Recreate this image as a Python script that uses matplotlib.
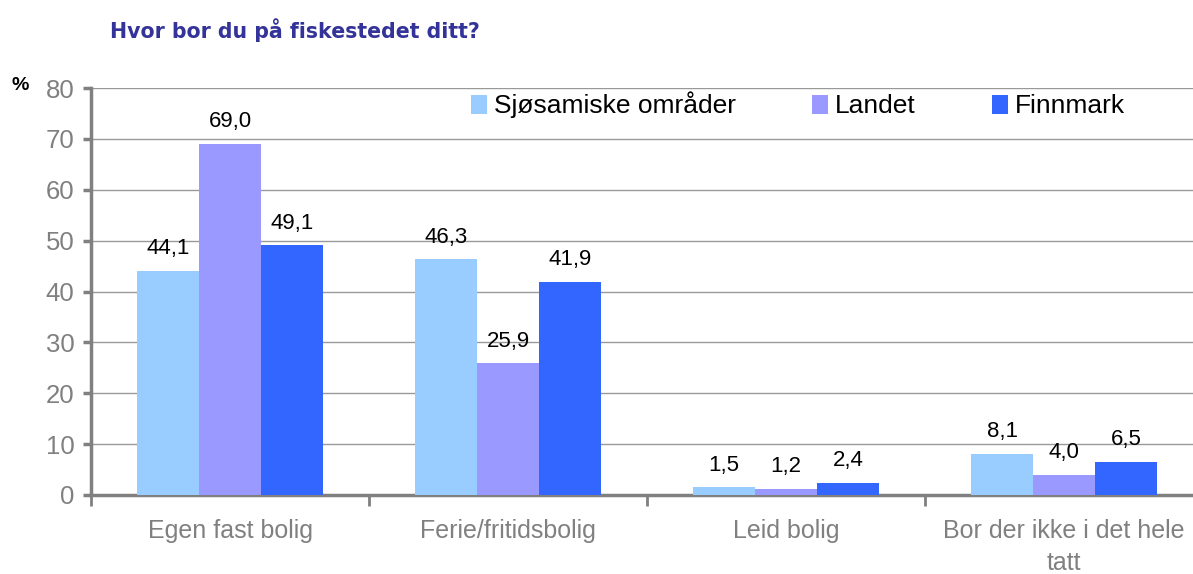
import numpy as np
import matplotlib
matplotlib.use("Agg")
import matplotlib.pyplot as plt

categories = ["Egen fast bolig", "Ferie/fritidsbolig", "Leid bolig", "Bor der ikke i det hele\ntatt"]
series = ["Sjøsamiske områder", "Landet", "Finnmark"]
sjosamiske = [44.1, 46.3, 1.5, 8.1]
landet = [69.0, 25.9, 1.2, 4.0]
finnmark = [49.1, 41.9, 2.4, 6.5]
colors = ["#99ccff", "#9999ff", "#3366ff"]

plt.rcParams["font.family"] = ["Liberation Sans", "DejaVu Sans"]

fig = plt.figure(figsize=(11.93, 5.74), dpi=100)
ax = fig.add_axes([91 / 1193, 1 - 495 / 574, 1112 / 1193, (495 - 88) / 574])

x = np.arange(len(categories))
w = 0.223
for i, (vals, name, c) in enumerate(zip([sjosamiske, landet, finnmark], series, colors)):
    pos = x + (i - 1) * w
    ax.bar(pos, vals, w, color=c, label=name, zorder=3)
    for p, v in zip(pos, vals):
        ax.text(p, v + 2.3, f"{v:.1f}".replace(".", ","), ha="center", va="bottom",
                fontsize=16, color="black")

ax.set_xlim(-0.5, 3.5)
ax.set_ylim(0, 80)
ax.set_yticks(range(0, 81, 10))
ax.yaxis.grid(True, color="#999999", linewidth=1, zorder=0)
ax.set_axisbelow(True)
for s in ["top", "right"]:
    ax.spines[s].set_visible(False)
for s in ["left", "bottom"]:
    ax.spines[s].set_color("#808080")
    ax.spines[s].set_linewidth(2.5)
ax.tick_params(axis="y", colors="#808080", labelsize=18.5, width=2.5, length=6, pad=6)
ax.set_xticks(np.arange(-0.5, 4, 1))
ax.set_xticklabels([])
ax.tick_params(axis="x", colors="#808080", width=2, length=8)
for xi, lab in zip(x, categories):
    ax.text(xi, -4.8, lab, ha="center", va="top", fontsize=18, color="#808080",
            linespacing=1.38)

fig.text(12 / 1193, 1 - 86 / 574, "%", fontsize=14, fontweight="bold", ha="left", va="center")
fig.text(110 / 1193, 1 - 30 / 574, "Hvor bor du på fiskestedet ditt?", fontsize=14.8,
         fontweight="bold", color="#333399", ha="left", va="center", family="DejaVu Sans")

ax.legend(loc="center left", bbox_to_anchor=(0.342, 0.958), ncol=3, frameon=False,
          fontsize=19, handlelength=0.6, handleheight=0.75, columnspacing=2.9,
          handletextpad=0.25, borderpad=0, borderaxespad=0)

fig.savefig("out.png", dpi=100)
